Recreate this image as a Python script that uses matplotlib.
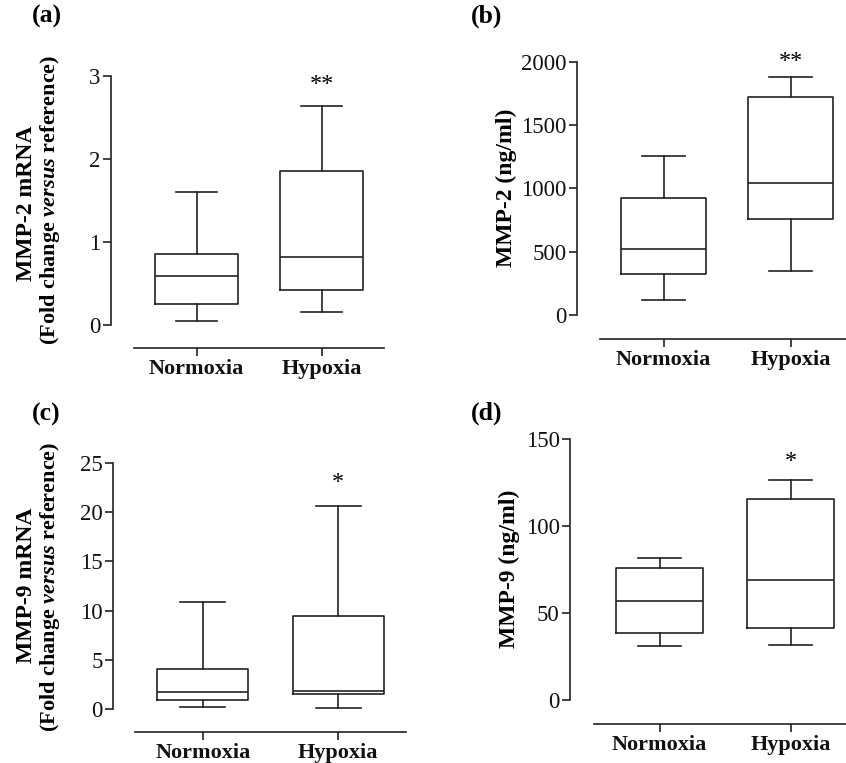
import matplotlib
matplotlib.use("Agg")
import matplotlib.pyplot as plt

plt.rcParams['font.family'] = ['Liberation Serif', 'DejaVu Serif']
plt.rcParams['mathtext.fontset'] = 'custom'
plt.rcParams['mathtext.bf'] = 'Liberation Serif:bold'
plt.rcParams['mathtext.it'] = 'Liberation Serif:italic:bold'
plt.rcParams['mathtext.rm'] = 'Liberation Serif:bold'

groups = ["Normoxia", "Hypoxia"]

# five-number summaries: [min, Q1, median, Q3, max]
a_norm = [0.05, 0.25, 0.59, 0.855, 1.60]
a_hyp = [0.16, 0.42, 0.82, 1.86, 2.64]
b_norm = [119, 324, 522, 927, 1259]
b_hyp = [350, 757, 1046, 1726, 1879]
c_norm = [0.23, 0.91, 1.69, 4.03, 10.9]
c_hyp = [0.13, 1.52, 1.79, 9.48, 20.6]
d_norm = [31.0, 38.5, 57.1, 75.6, 81.8]
d_hyp = [31.8, 41.2, 68.7, 115.5, 126.2]

a_ticks = [0, 1, 2, 3]
b_ticks = [0, 500, 1000, 1500, 2000]
c_ticks = [0, 5, 10, 15, 20, 25]
d_ticks = [0, 50, 100, 150]

sig_a, sig_b, sig_c, sig_d = "**", "**", "*", "*"
star_y = {"a": 2.9, "b": 2000, "c": 23.0, "d": 137}

W, H = 846, 763
fig = plt.figure(figsize=(W / 100, H / 100), dpi=100)
col = "#222222"


def px_axes(x0, x1, ytop, ybot):
    return fig.add_axes([x0 / W, 1 - ybot / H, (x1 - x0) / W, (ybot - ytop) / H])


def panel(ax, norm, hyp, ticks, sig, sy, left_out, bot_out, bw):
    stats = []
    for s, lab in zip([norm, hyp], groups):
        stats.append(dict(whislo=s[0], q1=s[1], med=s[2], q3=s[3], whishi=s[4],
                          label=lab, fliers=[]))
    lp = dict(color=col, linewidth=1.2)
    ax.bxp(stats, positions=[1, 2], widths=bw, showfliers=False,
           boxprops=lp, whiskerprops=lp, capprops=lp, medianprops=lp)
    ax.set_xlim(0.5, 2.5)
    ax.set_ylim(ticks[0], ticks[-1])
    for sp in ["top", "right"]:
        ax.spines[sp].set_visible(False)
    ax.spines["left"].set_position(("outward", left_out * 0.72))
    ax.spines["bottom"].set_position(("outward", bot_out * 0.72))
    for sp in ["left", "bottom"]:
        ax.spines[sp].set_linewidth(1.2)
        ax.spines[sp].set_color(col)
    ax.set_yticks(ticks)
    ax.set_yticklabels([str(t) for t in ticks], fontsize=16.5)
    ax.set_xticks([1, 2])
    ax.set_xticklabels(groups, fontsize=16, fontweight="bold")
    ax.tick_params(axis="both", length=6, width=1.2, color=col, labelcolor="#111111")
    ax.tick_params(axis="y", pad=1.5)
    ax.tick_params(axis="x", pad=2)
    ax.patch.set_visible(False)
    ax.text(2, sy, sig, ha="center", va="center", fontsize=17.5, clip_on=False)


ax_a = px_axes(134, 384, 76, 325)
panel(ax_a, a_norm, a_hyp, a_ticks, sig_a, star_y["a"], 23, 23, 0.66)
ax_b = px_axes(600, 854, 62, 315)
panel(ax_b, b_norm, b_hyp, b_ticks, sig_b, star_y["b"], 23, 24, 0.67)
ax_c = px_axes(135, 406, 463, 709)
panel(ax_c, c_norm, c_hyp, c_ticks, sig_c, star_y["c"], 22, 23, 0.67)
ax_d = px_axes(594, 856, 439, 700)
panel(ax_d, d_norm, d_hyp, d_ticks, sig_d, star_y["d"], 24, 24, 0.66)


def ftext(x, y, s, **kw):
    fig.text(x / W, 1 - y / H, s, **kw)


for lab, x, y in [("(a)", 32, 16), ("(b)", 471, 16), ("(c)", 32, 414), ("(d)", 471, 413)]:
    ftext(x, y, lab, fontsize=18.5, fontweight="bold", ha="left", va="center")

line2 = r"$\mathbf{(Fold\ change\ }\mathit{versus}\mathbf{\ reference)}$"
ftext(26, 203, "MMP-2 mRNA", fontsize=17, fontweight="bold", rotation=90, ha="center", va="center")
ftext(50, 200, line2, fontsize=16, rotation=90, ha="center", va="center")
ftext(506, 188, "MMP-2 (ng/ml)", fontsize=17, fontweight="bold", rotation=90, ha="center", va="center")
ftext(26, 585, "MMP-9 mRNA", fontsize=17, fontweight="bold", rotation=90, ha="center", va="center")
ftext(50, 587, line2, fontsize=16, rotation=90, ha="center", va="center")
ftext(509, 569, "MMP-9 (ng/ml)", fontsize=17, fontweight="bold", rotation=90, ha="center", va="center")

fig.savefig("out.png", dpi=100)
